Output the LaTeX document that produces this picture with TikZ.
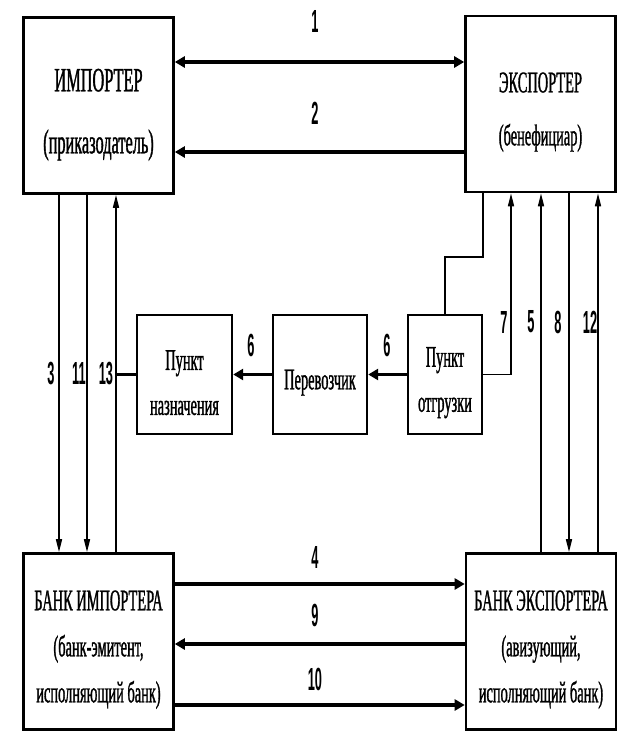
\documentclass[tikz,border=0pt]{standalone}
\usepackage{fontspec}
\newfontfamily\boxfont[FakeStretch=0.48,FakeBold=1]{Liberation Serif}
\newfontfamily\numfont[FakeStretch=0.4]{Liberation Sans}
\newcommand{\lift}{\rule{0pt}{1.2em}}
\usetikzlibrary{arrows.meta}

\begin{document}
\begin{tikzpicture}[x=1pt,y=-1pt,
    party/.style={draw,line width=2.6pt,minimum width=150pt,minimum height=176pt,align=center,inner sep=0pt},
    point/.style={draw,line width=2.4pt,minimum height=119pt,align=center,inner sep=0pt,
                  font=\boxfont\fontsize{30}{45}\selectfont},
    flow/.style={line width=3.3pt,>={Triangle[length=10pt,width=11pt]}},
    link/.style={line width=1.4pt,>={Triangle[length=13pt,width=6pt]}},
    num/.style={font=\numfont\bfseries\fontsize{32}{32}\selectfont,inner sep=0pt}]
  \useasboundingbox (0,0) rectangle (623,732);
  % participants
  \node[party,font=\boxfont\fontsize{34}{62}\selectfont] (imp) at (98.5,105.5) {\lift ИМПОРТЕР\\(приказодатель)};
  \node[party,font=\boxfont\fontsize{30}{53}\selectfont] (exp) at (540.5,104) {\lift ЭКСПОРТЕР\\(бенефициар)};
  \node[party,font=\boxfont\fontsize{30}{46}\selectfont] (bimp) at (98.5,641.5) {\lift БАНК ИМПОРТЕРА\\(банк-эмитент,\\исполняющий банк)};
  \node[party,font=\boxfont\fontsize{30}{46}\selectfont] (bexp) at (541,641.5) {\lift БАНК ЭКСПОРТЕРА\\(авизующий,\\исполняющий банк)};
  % goods route
  \node[point,minimum width=95pt] (dest) at (184.5,374.5) {\lift Пункт\\назначения};
  \node[point,minimum width=94pt] (carr) at (320,374.5) {\lift Перевозчик};
  \node[point,minimum width=74pt] (ship) at (445,374.5) {\lift Пункт\\отгрузки};
  % horizontal flows
  \draw[flow,<->] (imp.east |- 0,62) -- (exp.west |- 0,62);
  \draw[flow,->] (exp.west |- 0,152) -- (imp.east |- 0,152);
  \draw[flow,->] (bimp.east |- 0,584) -- (bexp.west |- 0,584);
  \draw[flow,->] (bexp.west |- 0,644) -- (bimp.east |- 0,644);
  \draw[flow,->] (bimp.east |- 0,705) -- (bexp.west |- 0,705);
  \draw[flow,->] (carr.west) -- (dest.east);
  \draw[flow,->] (ship.west) -- (carr.east);
  % vertical flows
  \draw[link,->] (imp.south -| 59,0) -- (bimp.north -| 59,0);
  \draw[link,->] (imp.south -| 87,0) -- (bimp.north -| 87,0);
  \draw[link,->] (bimp.north -| 116,0) -- (imp.south -| 116,0);
  \draw[line width=2.2pt] (dest.west) -- (dest.west -| 116,0);
  \draw[line width=1.6pt] (ship.north) |- (483,257) -- (exp.south -| 483,0);
  \draw[link,->] (ship.east) -| (exp.south -| 511,0);
  \draw[link,->] (bexp.north -| 541,0) -- (exp.south -| 541,0);
  \draw[link,->] (exp.south -| 569,0) -- (bexp.north -| 569,0);
  \draw[link,->] (bexp.north -| 598,0) -- (exp.south -| 598,0);
  % step numbers
  \node[num] (n1) at (315,21) {1};
  \node[num] (n2) at (315,113) {2};
  \node[num] (n4) at (315,557) {4};
  \node[num] (n9) at (315,615) {9};
  \node[num] (n10) at (315,679) {10};
  \node[num] (n3) at (51,373) {3};
  \node[num] (n11) at (79,373) {11};
  \node[num] (n13) at (106,373) {13};
  \node[num] (n6a) at (251,345) {6};
  \node[num] (n6b) at (387,345) {6};
  \node[num] (n7) at (504,322) {7};
  \node[num] (n5) at (531,322) {5};
  \node[num] (n8) at (558,322) {8};
  \node[num] (n12) at (590,322) {12};
\end{tikzpicture}
\end{document}
